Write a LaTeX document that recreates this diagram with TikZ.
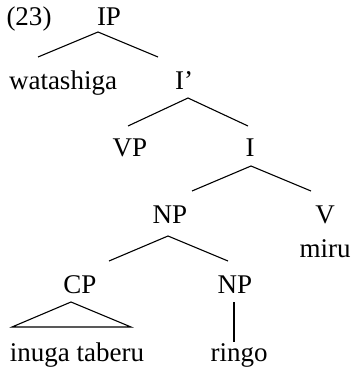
\documentclass[tikz,border=0pt]{standalone}
\usepackage{fontspec}
\setmainfont{Liberation Serif}
\usepackage{tikz}
\usetikzlibrary{calc}
\usetikzlibrary{positioning}

\begin{document}
\begin{tikzpicture}[x=0.5pt,y=-0.5pt,
        lbl/.style={font=\fontsize{13.5}{16}\selectfont, inner sep=0pt,
            text height=0.7em, text depth=0.25em, anchor=base},
        branch/.style={line width=0.55pt}]
        \useasboundingbox (0,0) rectangle (353,373);
        % labels of the tree
        \node[lbl] (ex)    at (29,26)   {(23)};
        \node[lbl] (ip)    at (109,26)  {IP};
        \node[lbl] (wat)   at (63,90)   {watashiga};
        \node[lbl] (ibar)  at (184,90)  {I’};
        \node[lbl] (vp)    at (130,157) {VP};
        \node[lbl] (i)     at (250,157) {I};
        \node[lbl] (np)    at (170,223) {NP};
        \node[lbl] (v)     at (325,223) {V};
        \node[lbl] (miru)  at (325,257) {miru};
        \node[lbl] (cp)    at (80,293)  {CP};
        \node[lbl] (npb)   at (235,293) {NP};
        \node[lbl] (inuga) at (77,361)  {inuga taberu};
        \node[lbl] (ringo) at (239,361) {ringo};
        % joints and branch ends
        \coordinate (ip-j)    at (98,32);
        \coordinate (wat-t)   at (38,57);
        \coordinate (ibar-t)  at (158,57);
        \coordinate (ibar-j)  at (188,98);
        \coordinate (vp-t)    at (128,126);
        \coordinate (i-t)     at (248,126);
        \coordinate (i-j)     at (251,166);
        \coordinate (np-t)    at (192,191);
        \coordinate (v-t)     at (311,191);
        \coordinate (np-j)    at (168,236);
        \coordinate (cp-t)    at (109,261);
        \coordinate (npb-t)   at (228,261);
        \coordinate (cp-j)    at (71,302);
        \coordinate (tri-l)   at (12,327);
        \coordinate (tri-r)   at (131,327);
        \coordinate (npb-j)   at (234,302);
        \coordinate (ringo-t) at (234,342);
        \foreach \a/\b in {ip-j/wat-t, ip-j/ibar-t, ibar-j/vp-t, ibar-j/i-t,
                i-j/np-t, i-j/v-t, np-j/cp-t, np-j/npb-t, npb-j/ringo-t} {
            \draw[branch] (\a) -- (\b);
        }
        \draw[branch] (cp-j) -- (tri-l) -- (tri-r) -- cycle;
    \end{tikzpicture}
\end{document}
